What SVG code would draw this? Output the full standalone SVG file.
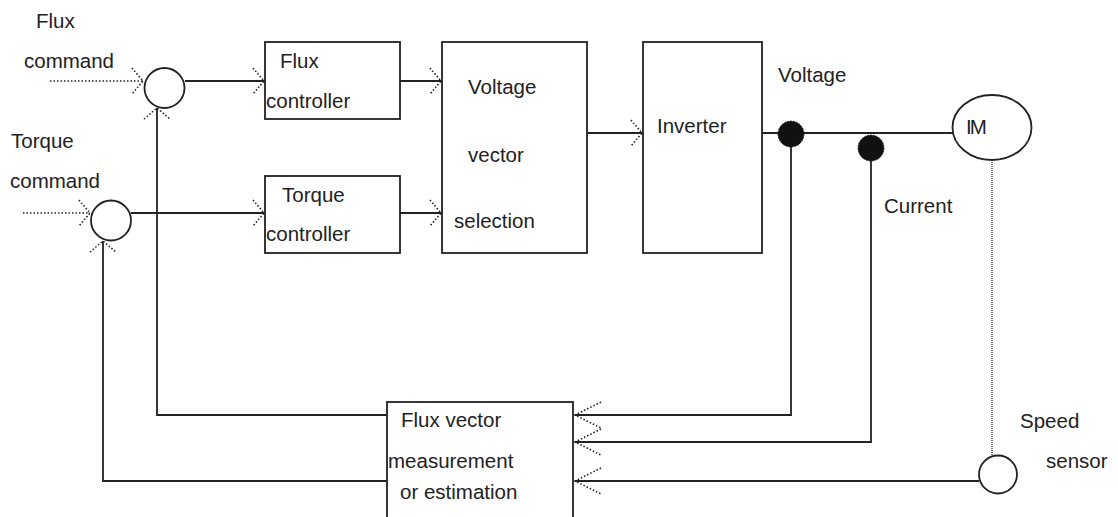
<svg xmlns="http://www.w3.org/2000/svg" width="1118" height="517" viewBox="0 0 1118 517">
<style>
.b{fill:#fff;stroke:#222;stroke-width:1.8}
.l{fill:none;stroke:#222;stroke-width:1.8}
.d{fill:none;stroke:#222;stroke-width:1.6;stroke-dasharray:1.5 2}
.f{fill:none;stroke:#444;stroke-width:1.4;stroke-dasharray:1 1}
.a{fill:none;stroke:#222;stroke-width:1.6;stroke-dasharray:1.5 2}
text{font-family:"Liberation Sans",Arial,sans-serif;font-size:20.5px;fill:#222}
</style>
<defs>
<path id="ar" class="a" d="M-11,-13 L0,0 L-11,13"/>
<path id="al" class="a" d="M26,-13 L0,0 L26,13"/>
</defs>
<rect width="1118" height="517" fill="#fff"/>
<g id="connectors">
<line class="d" x1="50" y1="81" x2="143" y2="81"/>
<line class="d" x1="23" y1="213" x2="90" y2="213"/>
<line class="l" x1="185" y1="81" x2="265" y2="81"/>
<line class="l" x1="131" y1="213" x2="265" y2="213"/>
<line class="l" x1="400" y1="81" x2="442" y2="81"/>
<line class="l" x1="400" y1="213" x2="442" y2="213"/>
<line class="l" x1="587" y1="133" x2="643" y2="133"/>
<line class="l" x1="762" y1="133" x2="953" y2="133"/>
<polyline class="l" points="791,134 791,415 575,415"/>
<polyline class="l" points="871,148 871,442 575,442"/>
<line class="l" x1="979" y1="481" x2="575" y2="481"/>
<polyline class="l" points="387,415 157,415 157,108"/>
<polyline class="l" points="387,481 103,481 103,241"/>
<line class="f" x1="992" y1="160" x2="992" y2="455"/>
<use href="#ar" x="143" y="81"/>
<use href="#ar" x="90" y="213"/>
<use href="#ar" x="264" y="81"/>
<use href="#ar" x="264" y="213"/>
<use href="#ar" x="441" y="81"/>
<use href="#ar" x="441" y="213"/>
<use href="#ar" x="642" y="133"/>
<use href="#ar" transform="translate(157,108) rotate(-90)"/>
<use href="#ar" transform="translate(103,241) rotate(-90)"/>
<use href="#al" x="575" y="415"/>
<use href="#al" x="575" y="442"/>
<use href="#al" x="575" y="481"/>
</g>
<g id="labels">
<text x="36" y="28">Flux</text>
<text x="24" y="68">command</text>
<text x="11" y="148">Torque</text>
<text x="10" y="188">command</text>
<text x="778" y="82">Voltage</text>
<text x="884" y="213">Current</text>
<text x="1020" y="428">Speed</text>
<text x="1046" y="468">sensor</text>
</g>
<g id="flux-sum"><circle class="b" cx="164.5" cy="88" r="20"/></g>
<g id="torque-sum"><circle class="b" cx="111" cy="220.5" r="20"/></g>
<g id="flux-controller">
<rect class="b" x="265" y="42" width="135" height="77"/>
<text x="280" y="68">Flux</text>
<text x="266" y="108">controller</text>
</g>
<g id="torque-controller">
<rect class="b" x="265" y="176" width="135" height="77"/>
<text x="282" y="202">Torque</text>
<text x="266" y="241">controller</text>
</g>
<g id="vvs">
<rect class="b" x="442" y="42" width="145" height="211"/>
<text x="468" y="94">Voltage</text>
<text x="468" y="162">vector</text>
<text x="454" y="228">selection</text>
</g>
<g id="inverter">
<rect class="b" x="643" y="42" width="119" height="211"/>
<text x="657" y="133">Inverter</text>
</g>
<g id="voltage-dot"><circle cx="791" cy="134" r="13" fill="#111" stroke="#222" stroke-width="1" stroke-dasharray="1.5 1.5"/></g>
<g id="current-dot"><circle cx="871" cy="148" r="13" fill="#111" stroke="#222" stroke-width="1" stroke-dasharray="1.5 1.5"/></g>
<g id="im">
<ellipse class="b" cx="992" cy="127.5" rx="39.5" ry="32.5"/>
<text x="966" y="134" letter-spacing="-2">IM</text>
</g>
<g id="speed-sensor"><circle class="b" cx="998" cy="474.5" r="19"/></g>
<g id="flux-estimator">
<rect class="b" x="387" y="402" width="186" height="130"/>
<text x="401" y="427">Flux vector</text>
<text x="388" y="468">measurement</text>
<text x="400" y="499">or estimation</text>
</g>
</svg>
